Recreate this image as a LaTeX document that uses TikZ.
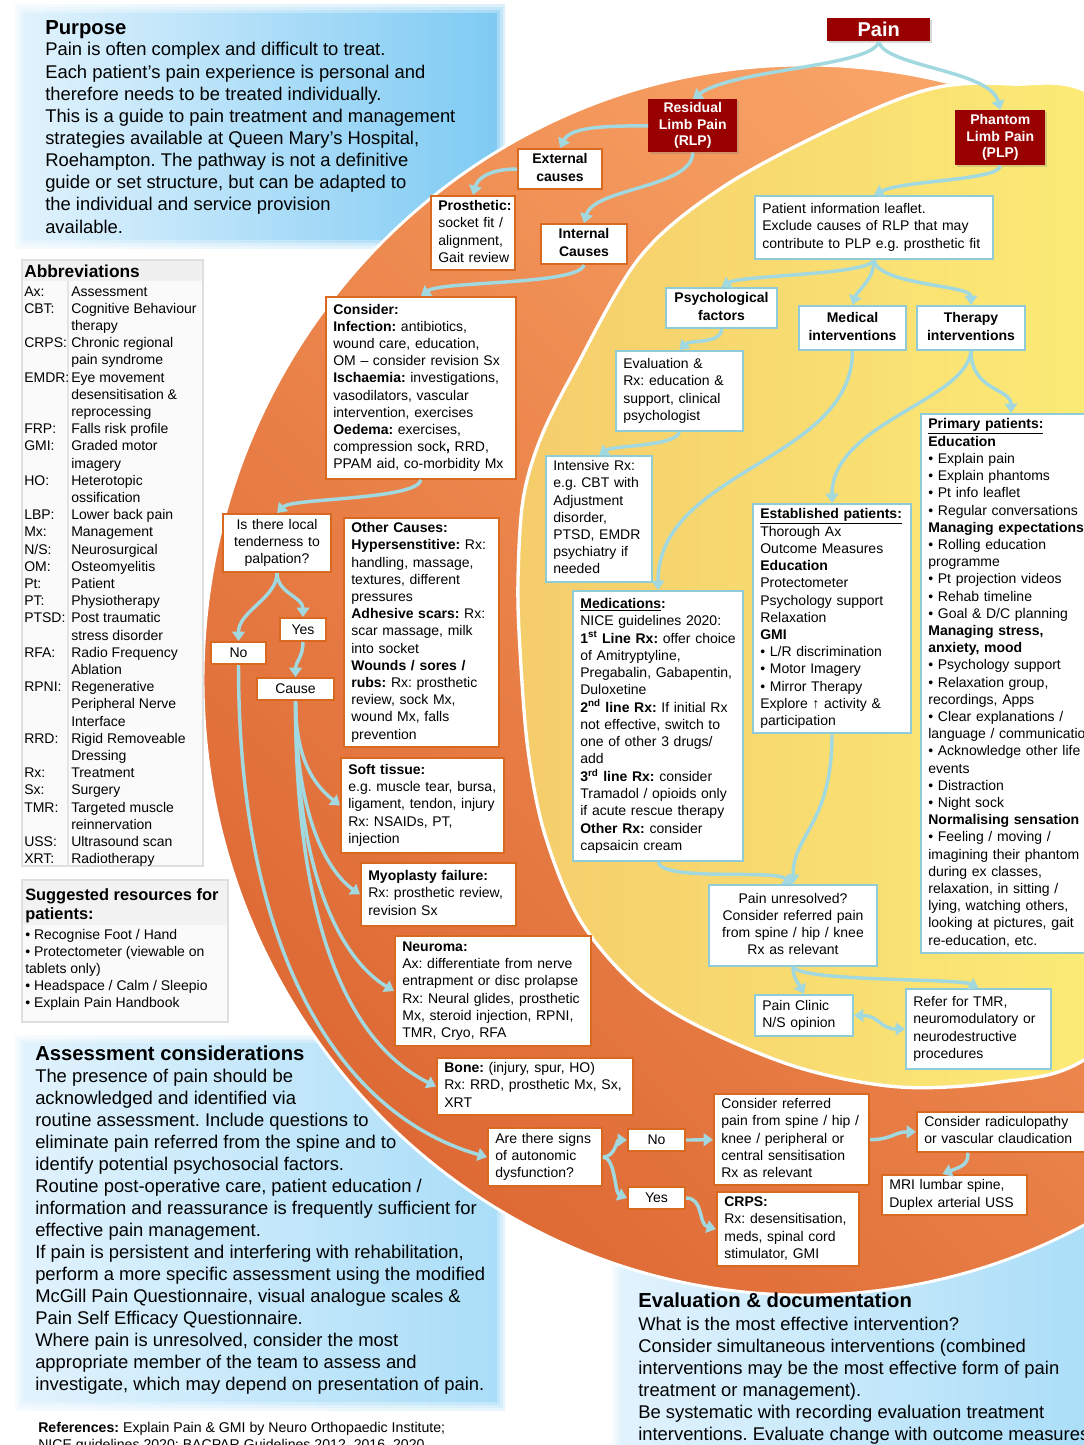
\documentclass[tikz,border=0pt]{standalone}
\usepackage{fontspec}
\setmainfont{Liberation Sans}
\usetikzlibrary{arrows.meta,shadows,calc}
\definecolor{ob}{HTML}{D8691F}
\definecolor{bb}{HTML}{8FCCD8}
\definecolor{cc}{HTML}{A2D8DF}
\definecolor{dred}{HTML}{990000}
\definecolor{or1}{HTML}{DE6934}
\definecolor{or2}{HTML}{FCAA6C}
\definecolor{ye1}{HTML}{F5CD6B}
\definecolor{ye2}{HTML}{FEF47A}
\definecolor{bl1}{HTML}{E2F3FD}
\definecolor{bl2}{HTML}{7DCAF3}
\definecolor{bl3}{HTML}{A9DDF8}
\newcommand{\qTL}[1]{\begin{tabular}{@{}l@{}}#1\end{tabular}}
\newcommand{\qTC}[1]{\begin{tabular}{@{}c@{}}#1\end{tabular}}
\newcommand{\qTT}[1]{\begin{tabular}[t]{@{}l@{}}#1\end{tabular}}
\newcommand{\qBox}[7]{%
  \pgfmathsetmacro\qbw{(#5-#3)*0.75}%
  \pgfmathsetmacro\qbh{(#6-#4)*0.75}%
  \pgfmathsetmacro\qbt{(#5-#3)*0.75-11}%
  \node[#1, minimum width=\qbw pt, minimum height=\qbh pt, text width=\qbt pt] (#2) at (#3,#4) {#7};}
\newcommand{\qSoft}[6]{%
  \fill[left color=#5, right color=#6] (#1,#2) rectangle (#3,#4);
  \foreach \w/\o in {16/0.3,10/0.35,5/0.4}
    \draw[white, line width=\w*0.75pt, opacity=\o] (#1,#2) rectangle (#3,#4);}
\begin{document}
\frenchspacing
\begin{tikzpicture}[x=0.75pt,y=-0.75pt,
  bt/.style={font=\fontsize{10.5}{12.9}\selectfont},
  obox/.style={bt, draw=ob, line width=1.5pt, fill=white, anchor=north west, inner xsep=5.5pt, inner ysep=2pt, align=left},
  obc/.style={obox, align=center},
  bbox/.style={bt, draw=bb, line width=1.5pt, fill=white, anchor=north west, inner xsep=5.5pt, inner ysep=2pt, align=left},
  bbc/.style={bbox, align=center},
  rbox/.style={fill=dred, text=white, anchor=north west, inner xsep=2pt, inner ysep=1pt, align=center,
    font=\bfseries\fontsize{10.5}{12.6}\selectfont,
    drop shadow={opacity=0.3, shadow xshift=1pt, shadow yshift=-1pt}},
  conn/.style={draw=cc, line width=2.6pt, -{Triangle[length=7pt,width=9.5pt]}},
  conn2/.style={draw=cc, line width=2.6pt, {Triangle[length=7pt,width=9.5pt]}-{Triangle[length=7pt,width=9.5pt]}},
  ftxt/.style={anchor=base west, inner sep=0pt}
]
\useasboundingbox (0,0) rectangle (1084,1445);
\clip (0,0) rectangle (1084,1445);
\fill[white] (0,0) rectangle (1084,1445);

% blue background regions
\qSoft{15}{5}{505}{248}{bl1}{bl2}
\qSoft{15}{1035}{505}{1410}{bl1}{bl3}
\qSoft{612}{1200}{1100}{1460}{bl1}{bl3}

% orange disc
\path[draw=white, line width=2.2pt, top color=or1, bottom color=or2, shading angle=135]
  (805,680) ellipse [x radius=602, y radius=615];
% yellow disc
\path[draw=white, line width=2.5pt, left color=ye1, right color=ye2]
  plot[smooth cycle, tension=0.55] coordinates {(930,89) (835,127) (723,187) (640,257) (573,373)
  (540,440) (523,500) (518,580) (520,650) (528,750) (545,835) (580,920) (635,985) (700,1027)
  (800,1068) (900,1087) (1000,1082) (1084,1060) (1200,960) (1260,600) (1220,250) (1100,100) (1010,84)};

% free texts
\node[ftxt, font=\bfseries\fontsize{15.2}{18}\selectfont] (purt) at (45,35) {Purpose};
\node[ftxt, font=\fontsize{13.8}{16.6}\selectfont] (purb) at (45,56) {\qTT{Pain is often complex and difficult to treat.\\
Each patient’s pain experience is personal and\\
therefore needs to be treated individually.\\
This is a guide to pain treatment and management\\
strategies available at Queen Mary’s Hospital,\\
Roehampton. The pathway is not a definitive\\
guide or set structure, but can be adapted to\\
the individual and service provision\\
available.}};

% abbreviations
\fill[gray!4] (22,260) rectangle (203,866);
\fill[gray!12] (22,260) rectangle (203,281);
\draw[gray!25, line width=0.8pt] (22,260) rectangle (203,866);
\draw[gray!20, line width=0.8pt] (68,281) -- (68,866);
\node[ftxt, font=\bfseries\fontsize{13}{15}\selectfont] (abbt) at (24,277) {Abbreviations};
\node[ftxt, bt] (abb) at (24,296) {\begin{tabular}[t]{@{}p{35.25pt}@{}l@{}}
Ax: & Assessment\\
CBT: & Cognitive Behaviour\\
 & therapy\\
CRPS: & Chronic regional\\
 & pain syndrome\\
EMDR: & Eye movement\\
 & desensitisation \&\\
 & reprocessing\\
FRP: & Falls risk profile\\
GMI: & Graded motor\\
 & imagery\\
HO: & Heterotopic\\
 & ossification\\
LBP: & Lower back pain\\
Mx: & Management\\
N/S: & Neurosurgical\\
OM: & Osteomyelitis\\
Pt: & Patient\\
PT: & Physiotherapy\\
PTSD: & Post traumatic\\
 & stress disorder\\
RFA: & Radio Frequency\\
 & Ablation\\
RPNI: & Regenerative\\
 & Peripheral Nerve\\
 & Interface\\
RRD: & Rigid Removeable\\
 & Dressing\\
Rx: & Treatment\\
Sx: & Surgery\\
TMR: & Targeted muscle\\
 & reinnervation\\
USS: & Ultrasound scan\\
XRT: & Radiotherapy
\end{tabular}};

% suggested resources
\fill[gray!4] (22,880) rectangle (228,1022);
\fill[gray!10] (22,880) rectangle (228,925);
\draw[gray!25, line width=0.8pt] (22,880) rectangle (228,1022);
\node[ftxt, font=\bfseries\fontsize{12.3}{14.3}\selectfont] (sugt) at (25,900) {\qTT{Suggested resources for\\patients:}};
\node[ftxt, bt] (sugb) at (25,939) {\qTT{• Recognise Foot / Hand\\
• Protectometer (viewable on\\
tablets only)\\
• Headspace / Calm / Sleepio\\
• Explain Pain Handbook}};

% assessment
\node[ftxt, font=\bfseries\fontsize{15.2}{18}\selectfont] (asst) at (35,1060) {Assessment considerations};
\node[ftxt, font=\fontsize{13.8}{16.55}\selectfont] (assb) at (35,1082) {\qTT{The presence of pain should be\\
acknowledged and identified via\\
routine assessment. Include questions to\\
eliminate pain referred from the spine and to\\
identify potential psychosocial factors.\\
Routine post-operative care, patient education /\\
information and reassurance is frequently sufficient for\\
effective pain management.\\
If pain is persistent and interfering with rehabilitation,\\
perform a more specific assessment using the modified\\
McGill Pain Questionnaire, visual analogue scales \&\\
Pain Self Efficacy Questionnaire.\\
Where pain is unresolved, consider the most\\
appropriate member of the team to assess and\\
investigate, which may depend on presentation of pain.}};

% evaluation
\node[ftxt, font=\bfseries\fontsize{15.2}{18}\selectfont] (evt) at (638,1307) {Evaluation \& documentation};
\node[ftxt, font=\fontsize{13.8}{16.5}\selectfont] (evb) at (638,1330) {\qTT{What is the most effective intervention?\\
Consider simultaneous interventions (combined\\
interventions may be the most effective form of pain\\
treatment or management).\\
Be systematic with recording evaluation treatment\\
interventions. Evaluate change with outcome measures}};

% references
\node[ftxt, font=\fontsize{10.6}{12.9}\selectfont] (refs) at (38,1432) {\qTT{\textbf{References:} Explain Pain \& GMI by Neuro Orthopaedic Institute;\\
NICE guidelines 2020; BACPAR Guidelines 2012, 2016, 2020}};

% red title boxes
\qBox{rbox, font=\bfseries\fontsize{15}{18}\selectfont}{pain}{827}{18}{930}{41}{Pain}
\qBox{rbox}{rlp}{648}{99}{737}{152}{\qTC{Residual\\Limb Pain\\(RLP)}}
\qBox{rbox}{plp}{955}{110}{1045}{165}{\qTC{Phantom\\Limb Pain\\(PLP)}}

% orange boxes
\qBox{obc}{ext}{517}{148}{601}{188}{\qTC{\textbf{External}\\\textbf{causes}}}
\qBox{obox}{pros}{430}{195}{514}{268}{\qTL{\textbf{Prosthetic:}\\socket fit /\\alignment,\\Gait review}}
\qBox{obc}{int}{540}{223}{626}{263}{\qTC{\textbf{Internal}\\\textbf{Causes}}}
\qBox{obox}{consider}{325}{296}{515}{478}{\qTL{\textbf{Consider:}\\
\textbf{Infection:} antibiotics,\\
wound care, education,\\
OM -- consider revision Sx\\
\textbf{Ischaemia:} investigations,\\
vasodilators, vascular\\
intervention, exercises\\
\textbf{Oedema:} exercises,\\
compression sock\textbf{,} RRD,\\
PPAM aid, co-morbidity Mx}}
\qBox{obc}{tender}{222}{513}{330}{571}{\qTC{Is there local\\tenderness to\\palpation?}}
\qBox{obox}{other}{343}{517}{498}{745}{\qTL{\textbf{Other Causes:}\\
\textbf{Hypersenstitive:} Rx:\\
handling, massage,\\
textures, different\\
pressures\\
\textbf{Adhesive scars:} Rx:\\
scar massage, milk\\
into socket\\
\textbf{Wounds / sores /}\\
\textbf{rubs:} Rx: prosthetic\\
review, sock Mx,\\
wound Mx, falls\\
prevention}}
\qBox{obc}{yes1}{279}{617}{325}{640}{Yes}
\qBox{obc}{no1}{210}{641}{265}{663}{No}
\qBox{obc}{cause}{256}{677}{333}{699}{Cause}
\qBox{obox}{soft}{340}{757}{503}{852}{\qTL{\textbf{Soft tissue:}\\
e.g. muscle tear, bursa,\\
ligament, tendon, injury\\
Rx: NSAIDs, PT,\\
injection}}
\qBox{obox}{myo}{360}{862}{515}{925}{\qTL{\textbf{Myoplasty failure:}\\
Rx: prosthetic review,\\
revision Sx}}
\qBox{obox}{neuroma}{394}{935}{590}{1045}{\qTL{\textbf{Neuroma:}\\
Ax: differentiate from nerve\\
entrapment or disc prolapse\\
Rx: Neural glides, prosthetic\\
Mx, steroid injection, RPNI,\\
TMR, Cryo, RFA}}
\qBox{obox}{bone}{436}{1057}{632}{1112}{\qTL{\textbf{Bone:} (injury, spur, HO)\\
Rx: RRD, prosthetic Mx, Sx,\\
XRT}}
\qBox{obox}{signs}{487}{1127}{601}{1185}{\qTL{Are there signs\\of autonomic\\dysfunction?}}
\qBox{obc}{no2}{627}{1128}{684}{1150}{No}
\qBox{obc}{yes2}{627}{1186}{684}{1208}{Yes}
\qBox{obox}{refpain}{713}{1093}{868}{1180}{\qTL{Consider referred\\
pain from spine / hip /\\
knee / peripheral or\\
central sensitisation\\
Rx as relevant}}
\qBox{obox}{crps}{716}{1191}{858}{1265}{\qTL{\textbf{CRPS:}\\
Rx: desensitisation,\\
meds, spinal cord\\
stimulator, GMI}}
\qBox{obox}{radic}{916}{1111}{1100}{1150}{\qTL{Consider radiculopathy\\or vascular claudication}}
\qBox{obox}{mri}{881}{1174}{1026}{1214}{\qTL{MRI lumbar spine,\\Duplex arterial USS}}

% blue boxes
\qBox{bbox}{leaflet}{754}{195}{992}{258}{\qTL{Patient information leaflet.\\
Exclude causes of RLP that may\\
contribute to PLP e.g. prosthetic fit}}
\qBox{bbc}{psych}{665}{287}{776}{327}{\qTC{\textbf{Psychological}\\\textbf{factors}}}
\qBox{bbc}{medical}{798}{305}{905}{349}{\qTC{\textbf{Medical}\\\textbf{interventions}}}
\qBox{bbc}{therapy}{916}{305}{1024}{349}{\qTC{\textbf{Therapy}\\\textbf{interventions}}}
\qBox{bbox}{evalrx}{615}{350}{742}{430}{\qTL{Evaluation \&\\
Rx: education \&\\
support, clinical\\
psychologist}}
\qBox{bbox}{intensive}{545}{455}{651}{577}{\qTL{Intensive Rx:\\
e.g. CBT with\\
Adjustment\\
disorder,\\
PTSD, EMDR\\
psychiatry if\\
needed}}
\qBox{bbox}{meds}{572}{590}{742}{860}{\qTL{\textbf{\underline{Medications}:}\\
NICE guidelines 2020:\\
\textbf{1\textsuperscript{st} Line Rx:} offer choice\\
of Amitryptyline,\\
Pregabalin, Gabapentin,\\
Duloxetine\\
\textbf{2\textsuperscript{nd} line Rx:} If initial Rx\\
not effective, switch to\\
one of other 3 drugs/\\
add\\
\textbf{3\textsuperscript{rd} line Rx:} consider\\
Tramadol / opioids only\\
if acute rescue therapy\\
\textbf{Other Rx:} consider\\
capsaicin cream}}
\qBox{bbox}{estab}{752}{503}{910}{732}{\qTL{\textbf{\underline{Established patients:}}\\
Thorough Ax\\
Outcome Measures\\
\textbf{Education}\\
Protectometer\\
Psychology support\\
Relaxation\\
\textbf{GMI}\\
• L/R discrimination\\
• Motor Imagery\\
• Mirror Therapy\\
Explore ↑ activity \&\\
participation}}
\qBox{bbox}{primary}{920}{413}{1100}{950}{\qTL{\textbf{\underline{Primary patients:}}\\
\textbf{Education}\\
• Explain pain\\
• Explain phantoms\\
• Pt info leaflet\\
• Regular conversations\\
\textbf{Managing expectations}\\
• Rolling education\\
programme\\
• Pt projection videos\\
• Rehab timeline\\
• Goal \& D/C planning\\
\textbf{Managing stress,}\\
\textbf{anxiety, mood}\\
• Psychology support\\
• Relaxation group,\\
recordings, Apps\\
• Clear explanations /\\
language / communication\\
• Acknowledge other life\\
events\\
• Distraction\\
• Night sock\\
\textbf{Normalising sensation}\\
• Feeling / moving /\\
imagining their phantom\\
during ex classes,\\
relaxation, in sitting /\\
lying, watching others,\\
looking at pictures, gait\\
re-education, etc.}}
\qBox{bbc}{unres}{708}{884}{876}{965}{\qTC{Pain unresolved?\\
Consider referred pain\\
from spine / hip / knee\\
Rx as relevant}}
\qBox{bbox}{clinic}{754}{994}{852}{1035}{\qTL{Pain Clinic\\N/S opinion}}
\qBox{bbox}{tmr}{905}{988}{1050}{1068}{\qTL{Refer for TMR,\\
neuromodulatory or\\
neurodestructive\\
procedures}}

% connectors
\draw[conn] (pain.south) .. controls +(-5,25) and +(40,-30) .. (rlp.north);
\draw[conn] (pain.south) .. controls +(5,25) and +(-10,-40) .. (plp.north);
\draw[conn] (rlp.west) .. controls +(-50,0) and +(10,-20) .. (ext.north);
\draw[conn] (rlp.south) .. controls +(0,35) and +(10,-35) .. (int.north);
\draw[conn] (ext.west) .. controls +(-25,0) and +(5,-18) .. (pros.north);
\draw[conn] (int.south) .. controls +(-5,20) and +(20,-15) .. (consider.north);
\draw[conn] (consider.south) .. controls +(-5,20) and +(15,-15) .. (tender.north);
\draw[conn] (tender.south) .. controls +(0,25) and +(0,-30) .. (no1.north);
\draw[conn] (tender.south) .. controls +(0,20) and +(0,-20) .. (yes1.north);
\draw[conn] (yes1.south) .. controls +(0,15) and +(0,-15) .. (cause.north);
\draw[conn] (cause.south) .. controls +(0,60) and +(-25,-20) .. (soft.west);
\draw[conn] (cause.south) .. controls +(0,110) and +(-35,-25) .. (myo.west);
\draw[conn] (cause.south) .. controls +(0,180) and +(-50,-30) .. (neuroma.west);
\draw[conn] (cause.south) .. controls +(0,260) and +(-70,-35) .. (bone.west);
\draw[conn] (no1.south) .. controls +(0,300) and +(-140,-40) .. (signs.west);
\draw[conn] (signs.east) .. controls +(12,0) and +(-10,0) .. (no2.west);
\draw[conn] (signs.east) .. controls +(12,0) and +(-12,-5) .. (yes2.west);
\draw[conn] (no2.east) .. controls +(14,0) and +(-14,0) .. (refpain.west);
\draw[conn] (yes2.east) .. controls +(18,0) and +(-18,-5) .. (crps.west);
\draw[conn] (refpain.east) .. controls +(22,0) and +(-22,0) .. (radic.west);
\draw[conn] ($(radic.south west)+(52,0)$) .. controls +(0,12) and +(20,-8) .. ($(mri.north)+(-12,0)$);
\draw[conn] (plp.south) .. controls +(0,15) and +(30,-15) .. (leaflet.north);
\draw[conn] (leaflet.south) .. controls +(-5,15) and +(20,-12) .. (psych.north);
\draw[conn] (leaflet.south) .. controls +(0,20) and +(5,-15) .. (medical.north);
\draw[conn] (leaflet.south) .. controls +(3,25) and +(0,-20) .. (therapy.north);
\draw[conn] (psych.south) .. controls +(0,15) and +(10,-10) .. (evalrx.north);
\draw[conn] (evalrx.south) .. controls +(-5,15) and +(15,-10) .. (intensive.north);
\draw[conn] (medical.south) .. controls +(0,110) and +(0,-120) .. (meds.north);
\draw[conn] (therapy.south) .. controls +(-5,50) and +(0,-80) .. (estab.north);
\draw[conn] (therapy.south) .. controls +(0,40) and +(0,-25) .. (primary.north);
\draw[conn] (estab.south) .. controls +(0,90) and +(0,-50) .. (unres.north);
\draw[conn] (meds.south) .. controls +(5,20) and +(-20,-15) .. (unres.north);
\draw[conn] (unres.south) .. controls +(0,12) and +(-5,-10) .. (clinic.north);
\draw[conn] (unres.south) .. controls +(10,15) and +(-20,-10) .. (tmr.north);
\draw[conn2] (clinic.east) .. controls +(25,0) and +(-25,0) .. (tmr.west);
\end{tikzpicture}
\end{document}
